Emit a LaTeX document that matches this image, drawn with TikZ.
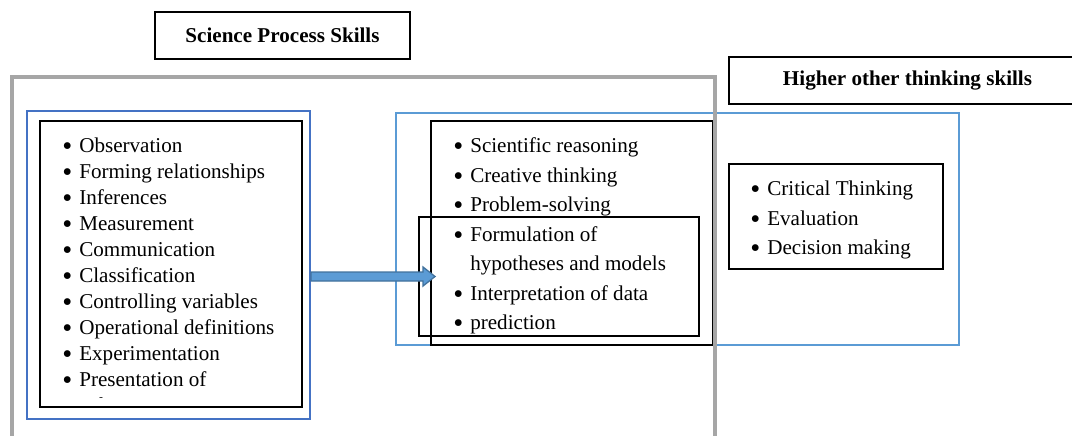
\documentclass[tikz,border=0pt]{standalone}
\usepackage{fontspec}
\setmainfont{Liberation Serif}
\usepackage{xcolor}
\usepackage{graphicx}
\usepackage{tikz}
\usetikzlibrary{calc}
\usetikzlibrary{fit}
\usetikzlibrary{positioning}

\definecolor{framegray}{HTML}{A6A6A6}
\definecolor{darkblue}{HTML}{4472C4}
\definecolor{lightblue}{HTML}{5B9BD5}
\definecolor{arrowedge}{HTML}{41719C}
\newcommand{\bul}{\makebox[0.425cm][l]{\raisebox{-0.16em}{\scalebox{1.35}{\textbullet}}}}

\begin{document}
\begin{tikzpicture}[x=0.025cm,y=-0.025cm,
	every node/.style={font=\fontsize{15}{18}\selectfont},
	titlebox/.style={draw,line width=1pt,inner sep=0pt,
		label={[font=\fontsize{15}{18}\selectfont\bfseries]center:#1}},
	listbox/.style={draw,line width=0.8pt,inner sep=0pt},
	boldbox/.style={draw,line width=1.5pt,inner sep=0pt},
	bluebox/.style={draw=#1,line width=1.5pt,inner sep=0pt},
	item/.style={anchor=base west,inner sep=0pt},
	bigarrow/.style={fill=lightblue,draw=arrowedge,line width=0.9pt},
	grayframe/.style={draw=framegray,line width=2.8pt}]
	\useasboundingbox (0,0) rectangle (1072,435);
	% headings
	\node[titlebox={Science Process Skills},fit={(155,12) (410,59)}] (scititle) {};
	\node[titlebox={Higher other thinking skills},fit={(729,57) (1086,104)}] (hotstitle) {};
	% boxes
	\node[bluebox=darkblue,fit={(27,111) (310,419)}] (spsframe) {};
	\node[listbox,fit={(40,121) (302,407)}] (spslist) {};
	\node[bluebox=lightblue,fit={(396,113) (959,345)}] (hotsframe) {};
	\node[listbox,fit={(431,121) (713,345)}] (hotslist) {};
	\node[boldbox,fit={(419,217) (699,336)}] (overlap) {};
	\node[listbox,fit={(729,164) (943,269)}] (hotsonly) {};
	% science process skills
	\begin{scope}
		\clip (40,121) rectangle (302,397);
		\foreach \txt [count=\i] in {Observation,Forming relationships,Inferences,Measurement,Communication,Classification,Controlling variables,Operational definitions,Experimentation,Presentation of}
			\node[item] (sps-\i) at (62,{126.5+26*\i}) {\bul\txt};
		\node[item] (sps-cont) at (79,412) {information};
	\end{scope}
	% shared skills
	\node[item] (hots-1) at (453,152.5) {\bul Scientific reasoning};
	\node[item] (hots-2) at (453,182) {\bul Creative thinking};
	\node[item] (hots-3) at (453,211.5) {\bul Problem-solving};
	\node[item] (hots-4) at (453,241) {\bul Formulation of};
	\node[item] (hots-5) at (470,270.5) {hypotheses and models};
	\node[item] (hots-6) at (453,300) {\bul Interpretation of data};
	\node[item] (hots-7) at (453,329.5) {\bul prediction};
	% higher order only
	\foreach \txt [count=\i] in {Critical Thinking,Evaluation,Decision making}
		\node[item] (crit-\i) at (750,{166+29.5*\i}) {\bul\txt};
	% arrow
	\coordinate (arrowtail) at (spsframe.east |- overlap.west);
	\filldraw[bigarrow] (arrowtail) ++(0,-4.5) -- ++(112,0) -- ++(0,-5) -- ++(12,9.5) -- ++(-12,9.5) -- ++(0,-5) -- ++(-112,0) -- cycle;
	% outer frame
	\draw[grayframe] (12,440) -- (12,77) -- (715,77) -- (715,440);
\end{tikzpicture}
\end{document}
